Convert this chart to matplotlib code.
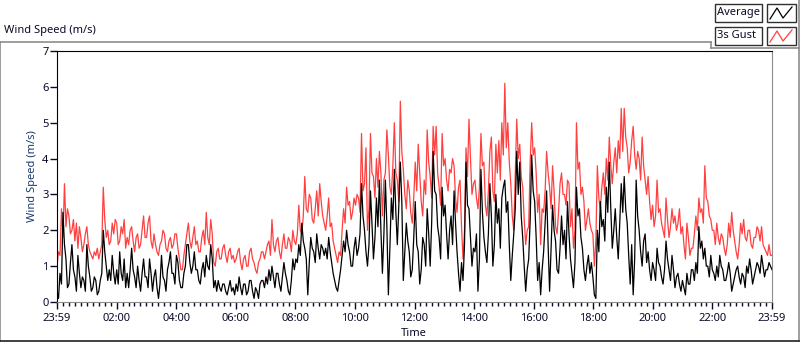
import matplotlib
matplotlib.use('Agg')
import matplotlib.pyplot as plt
from matplotlib.lines import Line2D
from matplotlib.patches import Rectangle
import numpy as np

plt.rcParams['font.family'] = ['Noto Sans', 'DejaVu Sans']

# 3-minute samples, one row per hour
gust = [
    1.0, 1.4, 1.3, 2.6, 1.8, 3.3, 2.1, 2.6, 2.4, 1.9, 2.0, 2.3, 1.7, 2.2, 1.5, 2.1, 1.8, 1.4, 1.6, 1.9,
    2.1, 1.6, 1.4, 1.3, 1.2, 1.4, 1.3, 1.5, 1.2, 1.4, 1.6, 3.2, 2.3, 1.8, 2.0, 1.6, 1.7, 2.2, 1.9, 2.3,
    2.2, 1.6, 1.7, 2.1, 1.9, 2.3, 1.5, 1.8, 1.6, 2.0, 2.1, 1.7, 1.4, 1.8, 1.9, 1.5, 1.6, 2.0, 2.4, 1.8,
    1.8, 2.2, 2.4, 1.7, 1.5, 1.9, 1.6, 1.4, 1.3, 1.6, 1.7, 2.0, 1.9, 1.5, 1.4, 1.7, 1.8, 1.5, 1.6, 1.9,
    1.9, 1.5, 1.2, 0.9, 0.9, 1.3, 1.6, 1.9, 2.2, 1.7, 1.5, 1.8, 2.1, 1.6, 1.7, 1.4, 1.4, 1.8, 2.0, 1.6,
    2.5, 1.8, 1.6, 2.3, 1.9, 1.1, 1.0, 1.4, 1.5, 1.2, 1.2, 1.5, 1.6, 1.3, 1.1, 1.4, 1.5, 1.2, 1.3, 1.1,
    1.2, 1.4, 1.5, 1.1, 0.9, 1.2, 1.3, 1.0, 1.0, 1.4, 1.5, 1.2, 1.1, 0.9, 0.8, 1.1, 1.2, 1.4, 1.4, 1.2,
    1.4, 1.6, 1.7, 1.3, 2.3, 1.6, 1.4, 1.7, 1.8, 1.4, 1.2, 1.6, 1.9, 1.5, 1.5, 1.8, 1.7, 1.4, 2.0, 1.7,
    1.6, 1.9, 2.7, 2.0, 1.9, 2.4, 3.5, 2.6, 2.5, 3.0, 2.9, 2.3, 2.2, 2.6, 3.1, 2.4, 3.3, 2.8, 2.4, 2.2,
    2.0, 2.4, 2.9, 2.1, 2.2, 1.7, 1.5, 1.3, 1.1, 1.4, 1.3, 2.0, 2.6, 2.2, 3.2, 2.7, 2.8, 2.3, 2.5, 2.9,
    2.7, 3.0, 2.9, 2.5, 4.7, 3.1, 3.3, 4.3, 2.0, 2.6, 4.7, 3.6, 3.5, 2.9, 4.0, 3.2, 4.2, 3.6, 2.4, 3.4,
    3.6, 4.8, 4.1, 3.2, 3.0, 3.8, 5.0, 3.6, 3.4, 2.8, 5.6, 4.2, 3.7, 3.0, 2.6, 3.4, 3.1, 2.5, 2.2, 2.9,
    3.9, 3.1, 4.4, 3.6, 2.8, 2.4, 3.4, 3.0, 4.8, 3.9, 3.5, 2.9, 4.9, 4.1, 4.9, 3.6, 3.2, 2.7, 4.7, 3.8,
    4.0, 3.4, 3.1, 3.7, 3.6, 4.0, 3.8, 2.9, 2.5, 3.2, 3.4, 2.1, 1.2, 2.0, 4.3, 3.5, 5.1, 4.0, 3.0, 3.3,
    3.4, 2.9, 2.6, 3.2, 4.7, 3.8, 3.9, 2.7, 2.4, 3.1, 4.2, 4.6, 3.1, 2.8, 4.4, 3.6, 4.5, 3.4, 5.0, 4.1,
    6.1, 4.3, 5.0, 3.9, 3.3, 2.4, 2.0, 3.6, 5.1, 4.0, 4.4, 3.5, 3.2, 2.3, 1.6, 2.0, 2.1, 3.9, 5.0, 4.1,
    4.3, 3.6, 2.5, 3.0, 1.6, 2.6, 2.5, 3.1, 4.2, 3.6, 3.2, 2.6, 3.8, 3.1, 2.1, 1.9, 2.5, 3.3, 3.6, 3.0,
    3.0, 2.7, 3.4, 3.3, 2.1, 2.6, 1.5, 2.0, 5.0, 3.7, 3.9, 3.0, 3.2, 2.8, 2.0, 2.3, 2.6, 2.2, 2.0, 1.9,
    1.0, 1.7, 3.8, 2.9, 2.6, 3.2, 3.6, 3.0, 4.0, 3.4, 4.6, 3.8, 3.3, 3.9, 4.3, 3.6, 4.5, 4.0, 5.4, 4.2,
    5.4, 4.6, 4.3, 3.6, 3.9, 4.5, 4.9, 4.1, 3.7, 4.2, 4.0, 3.4, 4.6, 3.8, 3.4, 3.0, 3.5, 2.8, 2.3, 2.7,
    2.1, 2.4, 3.4, 2.5, 2.6, 2.2, 2.0, 1.8, 2.9, 2.3, 1.8, 2.1, 2.6, 2.2, 2.4, 2.0, 2.2, 2.6, 1.9, 2.1,
    1.6, 1.2, 2.2, 1.8, 1.3, 1.5, 1.5, 1.9, 2.4, 2.0, 2.9, 2.5, 2.6, 2.2, 3.8, 2.9, 2.8, 2.4, 2.3, 2.0,
    2.0, 1.6, 2.2, 1.8, 1.6, 1.9, 1.8, 1.5, 1.3, 1.6, 2.2, 1.8, 2.5, 2.0, 1.7, 1.4, 1.2, 1.6, 2.2, 1.9,
    2.3, 1.8, 1.7, 2.0, 2.0, 1.6, 1.5, 1.8, 1.8, 2.1, 2.0, 1.7, 2.1, 1.6, 1.5, 1.4, 1.3, 1.6, 1.3, 1.3,
]
average = [
    0.3, 0.1, 0.8, 0.5, 2.5, 1.6, 1.2, 0.4, 0.5, 1.1, 1.6, 0.9, 0.7, 0.3, 1.3, 0.8, 0.4, 0.7, 0.6, 0.3,
    1.6, 1.0, 0.7, 0.3, 0.4, 0.7, 0.6, 0.2, 0.3, 0.6, 0.8, 2.0, 1.4, 1.0, 0.6, 0.9, 0.6, 1.3, 0.8, 0.5,
    0.9, 0.5, 1.4, 0.8, 0.6, 1.2, 0.4, 0.8, 0.4, 0.9, 1.5, 0.9, 0.7, 0.4, 1.0, 0.6, 0.3, 0.8, 1.2, 0.7,
    0.7, 0.4, 1.2, 0.8, 0.3, 0.7, 0.9, 0.4, 0.1, 0.5, 1.3, 0.7, 0.6, 0.3, 0.9, 1.1, 1.4, 0.8, 0.8, 0.5,
    1.3, 1.1, 0.6, 0.4, 0.4, 0.8, 1.0, 1.6, 1.6, 1.1, 0.8, 1.0, 1.4, 0.9, 0.9, 0.6, 0.5, 0.9, 1.1, 0.7,
    1.3, 1.0, 0.9, 1.6, 1.2, 0.4, 0.6, 0.3, 0.6, 0.4, 0.3, 0.5, 0.5, 0.3, 0.2, 0.4, 0.6, 0.3, 0.4, 0.2,
    0.5, 0.3, 0.7, 0.4, 0.2, 0.5, 0.5, 0.2, 0.3, 0.6, 0.6, 0.3, 0.1, 0.4, 0.3, 0.1, 0.5, 0.6, 0.6, 0.4,
    0.7, 0.5, 0.9, 0.6, 1.0, 0.7, 0.4, 0.8, 0.8, 0.5, 0.3, 0.7, 1.1, 0.8, 0.6, 0.3, 0.2, 0.6, 1.2, 0.9,
    1.2, 1.1, 1.6, 1.3, 2.2, 1.7, 1.5, 1.2, 0.2, 1.1, 1.8, 1.5, 1.4, 1.1, 1.9, 1.5, 1.2, 1.6, 1.5, 1.3,
    1.5, 1.2, 1.8, 1.4, 1.1, 0.8, 0.6, 0.4, 0.3, 0.6, 0.9, 1.3, 1.7, 1.4, 2.0, 1.6, 1.4, 1.0, 1.0, 1.5,
    1.8, 1.3, 1.5, 1.9, 3.3, 2.4, 2.0, 1.4, 1.0, 1.6, 3.1, 2.2, 1.2, 1.8, 2.9, 2.1, 3.4, 2.0, 0.8, 1.9,
    3.4, 2.1, 0.2, 1.5, 2.9, 2.3, 3.7, 2.5, 1.6, 2.7, 3.9, 2.8, 0.6, 1.4, 2.2, 1.7, 1.4, 0.7, 0.9, 1.8,
    2.8, 1.6, 1.4, 0.5, 0.9, 1.8, 1.6, 1.0, 2.6, 1.9, 1.0, 2.2, 4.2, 3.1, 3.0, 2.1, 1.8, 1.2, 3.2, 2.4,
    2.7, 1.9, 1.2, 2.0, 2.4, 1.6, 3.1, 2.2, 1.4, 0.8, 0.3, 1.1, 0.6, 1.6, 3.9, 2.7, 2.6, 1.8, 1.0, 1.5,
    1.4, 1.9, 0.3, 1.2, 3.7, 2.5, 1.8, 1.4, 1.1, 1.9, 3.3, 2.4, 1.0, 1.6, 3.0, 2.2, 2.6, 1.5, 2.9, 3.2,
    3.4, 2.5, 2.8, 1.6, 0.6, 1.3, 1.9, 2.6, 4.2, 3.0, 3.9, 2.4, 1.8, 1.0, 0.3, 0.9, 1.2, 2.3, 4.1, 3.1,
    2.8, 1.8, 0.6, 1.1, 0.2, 0.9, 1.4, 2.2, 3.1, 1.6, 0.3, 1.5, 2.7, 2.0, 1.7, 0.9, 0.8, 1.5, 2.4, 1.6,
    2.0, 1.2, 2.8, 1.9, 1.2, 0.8, 0.4, 1.1, 3.2, 2.4, 2.6, 1.8, 1.5, 0.9, 0.6, 1.0, 1.3, 0.8, 1.1, 0.7,
    0.2, 0.1, 2.0, 1.4, 2.8, 2.1, 2.3, 1.7, 3.2, 2.5, 3.9, 2.6, 1.5, 2.0, 2.6, 1.8, 1.2, 2.2, 3.3, 2.5,
    3.5, 2.6, 2.2, 1.3, 0.5, 1.6, 0.2, 1.2, 3.4, 2.4, 2.0, 1.4, 1.0, 1.7, 1.9, 1.1, 1.4, 0.9, 0.6, 1.1,
    0.9, 0.6, 1.5, 1.1, 1.0, 0.7, 0.5, 0.9, 1.7, 1.2, 0.9, 0.6, 1.3, 0.9, 0.4, 0.7, 0.8, 0.5, 0.3, 0.6,
    0.4, 0.2, 0.8, 0.5, 0.5, 0.9, 0.9, 0.6, 1.1, 0.8, 2.1, 1.5, 1.7, 1.2, 1.5, 1.0, 1.0, 0.7, 1.3, 0.9,
    0.8, 0.6, 1.0, 0.7, 1.3, 1.0, 0.9, 0.6, 0.6, 0.8, 1.1, 0.8, 0.3, 0.5, 0.7, 0.9, 1.0, 0.7, 0.5, 0.8,
    0.7, 0.4, 1.0, 0.8, 1.2, 0.9, 0.5, 0.7, 0.9, 1.1, 1.0, 0.8, 1.3, 1.0, 0.7, 0.9, 0.9, 1.1, 1.0, 0.9,
]
time_labels = ['23:59', '02:00', '04:00', '06:00', '08:00', '10:00', '12:00',
               '14:00', '16:00', '18:00', '20:00', '22:00', '23:59']

hours = np.arange(len(gust)) * 24.0 / (len(gust) - 1)
txt = '#0a0a28'

fig = plt.figure(figsize=(8, 3.42), dpi=100)
W, H = 800, 342

def px(x, y):
    return x / W, 1 - y / H

# panel outline like the LabVIEW front panel
grey = '#8c8c8c'
for xs, ys, c in [([0, 711], [42, 42], grey), ([0, 0], [42, 342], grey),
                  ([711, 711], [42, 48], grey), ([711, 799], [48, 48], grey),
                  ([799, 799], [0, 342], grey), ([0, 799], [341, 341], '#202020')]:
    fig.add_artist(Line2D([x / W for x in xs], [1 - y / H for y in ys],
                          color=c, lw=1.2, transform=fig.transFigure))

fig.text(4 / W, 1 - 31 / H, 'Wind Speed (m/s)', fontsize=8, color=txt, va='center')
fig.text(414 / W, 1 - 334 / H, 'Time', fontsize=8, color=txt, va='center', ha='center')

ax = fig.add_axes([57 / W, 1 - 302 / H, (772 - 57) / W, (302 - 51) / H])
ax.plot(hours, gust, color='#ff4040', lw=0.9)
ax.plot(hours, average, color='black', lw=0.9)
ax.set_xlim(0, 24)
ax.set_ylim(0, 7)
ax.set_xticks(np.arange(0, 25, 2))
ax.set_xticklabels(time_labels)
ax.set_xticks(np.arange(0, 24.01, 0.2), minor=True)
ax.set_yticks(range(8))
ax.tick_params(axis='both', labelsize=8, colors=txt, length=5, width=1, pad=1)
ax.tick_params(axis='x', pad=3)
ax.tick_params(axis='x', which='minor', length=3, width=1, color=txt)
ax.set_ylabel('Wind Speed (m/s)', fontsize=8, color='#1a3a6a', labelpad=3)
ax.spines['left'].set_color('black')
ax.spines['top'].set_color('black')
ax.spines['right'].set_color(grey)
ax.spines['bottom'].set_color(grey)

# legend boxes
for i, (name, col) in enumerate([('Average', 'black'), ('3s Gust', '#ff4040')]):
    y0 = 4 + i * 23
    fig.add_artist(Rectangle(px(715, y0 + 18), 47 / W, 18 / H, transform=fig.transFigure,
                             facecolor='white', edgecolor='#303030', lw=1))
    fig.add_artist(Rectangle(px(767, y0 + 18), 29 / W, 18 / H, transform=fig.transFigure,
                             facecolor='white', edgecolor='#303030', lw=1))
    fig.text(717 / W, 1 - (y0 + 9) / H, name, fontsize=8, color=txt, va='center')
    zx = [770, 777, 783, 792]
    zy = [y0 + 15, y0 + 4, y0 + 14, y0 + 3]
    fig.add_artist(Line2D([x / W for x in zx], [1 - y / H for y in zy], color=col,
                          lw=0.9, transform=fig.transFigure))

fig.savefig('out.png', dpi=100)
